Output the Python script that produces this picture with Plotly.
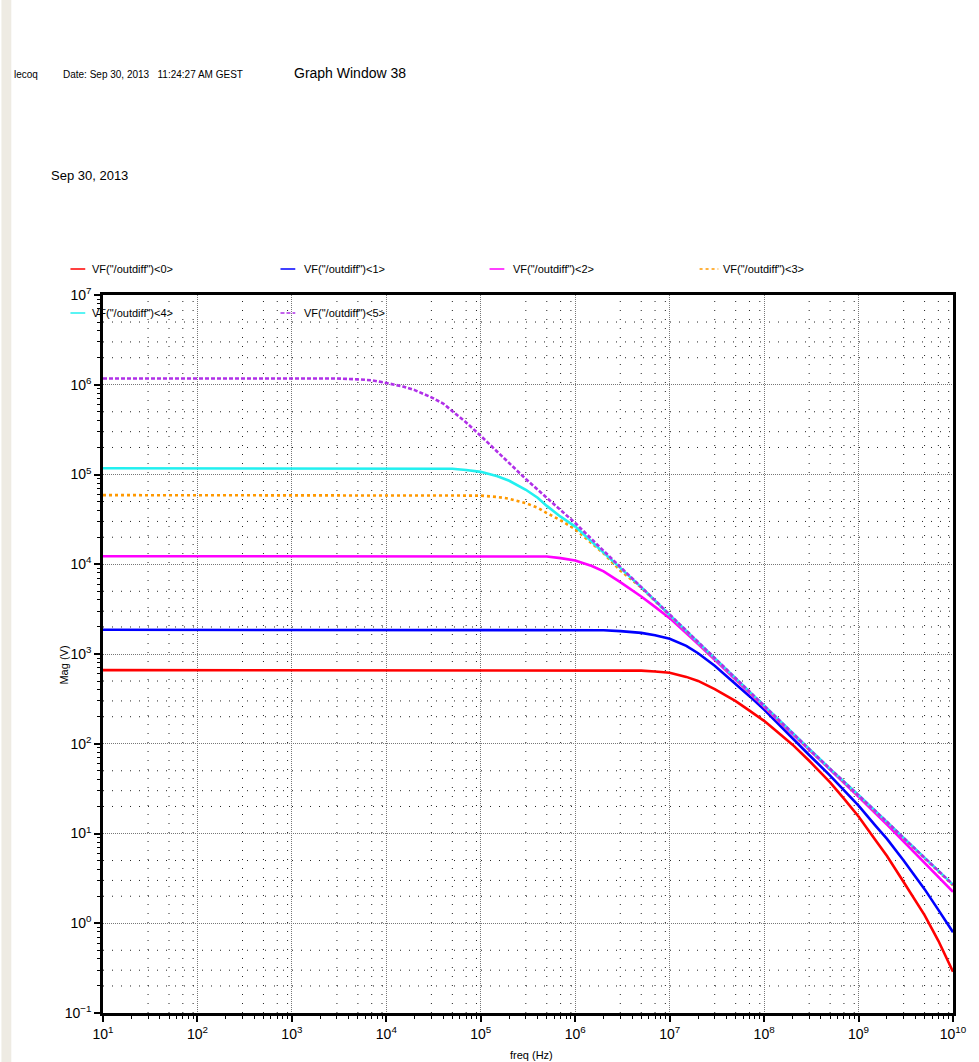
import math
import plotly.graph_objects as go

# ---------------- data ----------------
freq0 = [1e1, 3e6, 5e6, 7e6, 1e7, 1.5e7, 2e7, 3e7, 5e7, 7e7, 1e8, 1.5e8, 2e8, 3e8,
         5e8, 7e8, 1e9, 1.5e9, 2e9, 3e9, 5e9, 7e9, 1e10]
mag0 = [661, 661, 653, 638, 617, 556, 501, 407, 299, 234, 180, 126, 97.7, 64.6,
        37.2, 24.5, 15.5, 8.51, 5.62, 2.88, 1.23, 0.638, 0.288]

freq1 = [1e1, 1e6, 2e6, 3e6, 5e6, 7e6, 1e7, 1.5e7, 2e7, 3e7, 5e7, 7e7, 1e8, 1.5e8,
         2e8, 3e8, 5e8, 7e8, 1e9, 1.5e9, 2e9, 3e9, 5e9, 7e9, 1e10]
mag1 = [1860, 1860, 1840, 1800, 1720, 1620, 1480, 1230, 1020, 741, 468, 339, 240, 155,
        116, 75, 44.2, 30.5, 20.4, 12.3, 8.71, 5.01, 2.40, 1.41, 0.794]

freq2 = [1e1, 3e5, 5e5, 7e5, 1e6, 1.5e6, 2e6, 3e6, 5e6, 7e6, 1e7, 2e7, 3e7, 5e7,
         1e8, 2e8, 3e8, 5e8, 1e9, 2e9, 3e9, 5e9, 1e10]
mag2 = [12300, 12300, 12200, 11700, 11000, 9550, 8320, 6310, 4370, 3350, 2510, 1290, 861, 519,
        257, 129, 85.1, 51.3, 25.7, 12.6, 8.13, 4.68, 2.24]

freq3 = [1e1, 7e4, 1e5, 1.5e5, 2e5, 3e5, 4e5, 5e5, 7e5, 1e6, 2e6, 3e6, 5e6, 1e7,
         2e7, 3e7, 5e7, 1e8, 2e8, 3e8, 5e8, 1e9, 2e9, 3e9, 5e9, 1e10]
mag3 = [58900, 58900, 58200, 56200, 53700, 47900, 42700, 37200, 30900, 24500, 13200, 8510, 5500, 2690,
        1330, 880, 530, 260, 130, 86, 52, 26.5, 13.3, 8.8, 5.3, 2.65]

freq4 = [1e1, 3e4, 5e4, 7e4, 1e5, 1.5e5, 2e5, 3e5, 4e5, 5e5, 7e5, 1e6, 2e6, 3e6, 5e6, 1e7,
         2e7, 3e7, 5e7, 1e8, 2e8, 3e8, 5e8, 1e9, 2e9, 3e9, 5e9, 1e10]
mag4 = [117500, 117500, 116000, 112000, 107000, 95500, 85100, 67600, 55000, 44700, 33900, 26300, 13500, 9020, 5560, 2720,
        1350, 891, 537, 263, 132, 87.1, 52.5, 26.9, 13.5, 8.91, 5.37, 2.69]

freq5 = [1e1, 3e3, 5e3, 7e3, 1e4, 1.5e4, 2e4, 3e4, 4e4, 5e4, 7e4, 1e5, 1.5e5, 2e5, 3e5, 5e5, 7e5,
         1e6, 2e6, 3e6, 5e6, 1e7, 2e7, 3e7, 5e7, 1e8, 2e8, 3e8, 5e8, 1e9, 2e9, 3e9, 5e9, 1e10]
mag5 = [1.175e6, 1.175e6, 1.148e6, 1.122e6, 1.047e6, 9.55e5, 8.71e5, 7.24e5, 6.17e5, 5.13e5, 3.80e5, 2.69e5, 1.78e5, 1.35e5, 8.91e4, 5.50e4, 3.98e4,
        2.88e4, 1.41e4, 9.33e3, 5.62e3, 2.75e3, 1.35e3, 891, 537, 263, 132, 87.1, 52.5, 26.9, 13.5, 8.91, 5.37, 2.69]

series_names = ['VF("/outdiff")<0>', 'VF("/outdiff")<1>', 'VF("/outdiff")<2>',
                'VF("/outdiff")<3>', 'VF("/outdiff")<4>', 'VF("/outdiff")<5>']
series_freqs = [freq0, freq1, freq2, freq3, freq4, freq5]
series_vals = [mag0, mag1, mag2, mag3, mag4, mag5]
series_colors = ["#FF0000", "#0000FF", "#FF00FF", "#FF9900", "#22F0F0", "#B030E8"]
series_dash = ["solid", "solid", "solid", "dot", "solid", "4px,2px"]

x_tickvals = [1e1, 1e2, 1e3, 1e4, 1e5, 1e6, 1e7, 1e8, 1e9, 1e10]
x_ticktext = ["10<sup>1</sup>", "10<sup>2</sup>", "10<sup>3</sup>", "10<sup>4</sup>", "10<sup>5</sup>",
              "10<sup>6</sup>", "10<sup>7</sup>", "10<sup>8</sup>", "10<sup>9</sup>", "10<sup>10</sup>"]
y_tickvals = [1e-1, 1e0, 1e1, 1e2, 1e3, 1e4, 1e5, 1e6, 1e7]
y_ticktext = ["10<sup>\u22121</sup>", "10<sup>0</sup>", "10<sup>1</sup>", "10<sup>2</sup>", "10<sup>3</sup>",
              "10<sup>4</sup>", "10<sup>5</sup>", "10<sup>6</sup>", "10<sup>7</sup>"]

X_RANGE = [1, 10]   # log10 Hz
Y_RANGE = [-1, 7]   # log10 V

# ---------------- layout geometry ----------------
W, H = 979, 1062
L, R, T, B = 103, 965, 295, 1013
PW, PH = R - L, B - T


def px(x):
    return (x - L) / PW


def py(y):
    return (B - y) / PH


FONT = "Liberation Sans Narrow, Liberation Sans, Arial, sans-serif"

fig = go.Figure()
for name, fx, vals, col, dash in zip(series_names, series_freqs, series_vals, series_colors, series_dash):
    fig.add_trace(go.Scatter(x=fx, y=vals, mode="lines", name=name,
                             line=dict(color=col, width=2.6, dash=dash),
                             showlegend=False))

minor_x = [m * 10 ** e for e in range(1, 10) for m in range(2, 10)]
minor_y = [m * 10 ** e for e in range(-1, 7) for m in range(2, 10)]

axis_common = dict(
    type="log", showline=True, linewidth=2.5, linecolor="black", mirror=True,
    ticks="outside", ticklen=6, tickwidth=2, tickcolor="black",
    showgrid=True, gridcolor="#777777", gridwidth=1, griddash="1px,1px",
    tickfont=dict(family=FONT, size=14, color="black"), zeroline=False,
)

fig.update_xaxes(range=X_RANGE, tickmode="array", tickvals=x_tickvals, ticktext=x_ticktext,
                 minor=dict(tickmode="array", tickvals=minor_x, ticks="outside", ticklen=3, tickwidth=1,
                            tickcolor="black", showgrid=False),
                 **axis_common)
fig.update_yaxes(range=Y_RANGE, tickmode="array", tickvals=y_tickvals, ticktext=y_ticktext,
                 minor=dict(tickmode="array", tickvals=minor_y, ticks="outside", ticklen=3, tickwidth=1,
                            tickcolor="black", showgrid=False),
                 **axis_common)

shapes = []
annotations = []

# sparse dotted minor grid (subset of minor ticks, like the Cadence plot)
grid_line = dict(color="#222222", width=1, dash="1px,8px")
for e in range(1, 10):
    for m in (3, 5, 7, 9):
        xp = (math.log10(m * 10 ** e) - X_RANGE[0]) / (X_RANGE[1] - X_RANGE[0])
        shapes.append(dict(type="line", xref="paper", yref="paper", x0=xp, x1=xp, y0=0, y1=1,
                           line=grid_line, layer="below"))
for e in range(-1, 7):
    for m in (2, 3, 5):
        yp = (math.log10(m * 10 ** e) - Y_RANGE[0]) / (Y_RANGE[1] - Y_RANGE[0])
        shapes.append(dict(type="line", xref="paper", yref="paper", x0=0, x1=1, y0=yp, y1=yp,
                           line=grid_line, layer="below"))

# left beige strip
shapes.append(dict(type="rect", xref="paper", yref="paper", x0=px(0), x1=px(10), y0=py(0), y1=py(H),
                   fillcolor="#EEEBE3", line=dict(width=0), layer="below"))

# header texts
annotations += [
    dict(text="lecoq", x=px(11), y=py(75), xanchor="left", yanchor="middle",
         font=dict(family=FONT, size=10, color="black")),
    dict(text="Date: Sep 30, 2013 &nbsp; 11:24:27 AM GEST", x=px(60), y=py(75), xanchor="left",
         yanchor="middle", font=dict(family=FONT, size=10, color="black")),
    dict(text="Graph Window 38", x=px(295), y=py(73), xanchor="left", yanchor="middle",
         font=dict(family=FONT, size=14, color="black")),
    dict(text="Sep 30, 2013", x=px(48), y=py(175), xanchor="left", yanchor="middle",
         font=dict(family=FONT, size=13, color="black")),
    dict(text="Mag (V)", x=px(63), y=py(665), xanchor="center", yanchor="middle", textangle=-90,
         font=dict(family=FONT, size=11, color="black")),
    dict(text="freq (Hz)", x=px(538), y=py(1055), xanchor="center", yanchor="middle",
         font=dict(family=FONT, size=11, color="black")),
]

# manual legend
leg_pos = [(70, 85, 90, 269), (283, 298, 305, 269), (495, 510, 517, 269), (708, 727, 730, 269),
           (70, 85, 90, 313), (283, 298, 305, 313)]
for (x0, x1, xt, yy), name, col, dash in zip(leg_pos, series_names, series_colors, series_dash):
    shapes.append(dict(type="line", xref="paper", yref="paper", x0=px(x0), x1=px(x1), y0=py(yy), y1=py(yy),
                       line=dict(color=col, width=1.5, dash=dash)))
    annotations.append(dict(text=name, x=px(xt), y=py(yy), xanchor="left", yanchor="middle",
                            font=dict(family=FONT, size=11, color="black")))

for a in annotations:
    a.update(xref="paper", yref="paper", showarrow=False)

fig.update_layout(
    width=W, height=H,
    margin=dict(l=L, r=W - R, t=T, b=H - B, pad=0),
    paper_bgcolor="white", plot_bgcolor="white",
    shapes=shapes, annotations=annotations,
    showlegend=False,
)

fig.write_html("out.html")
